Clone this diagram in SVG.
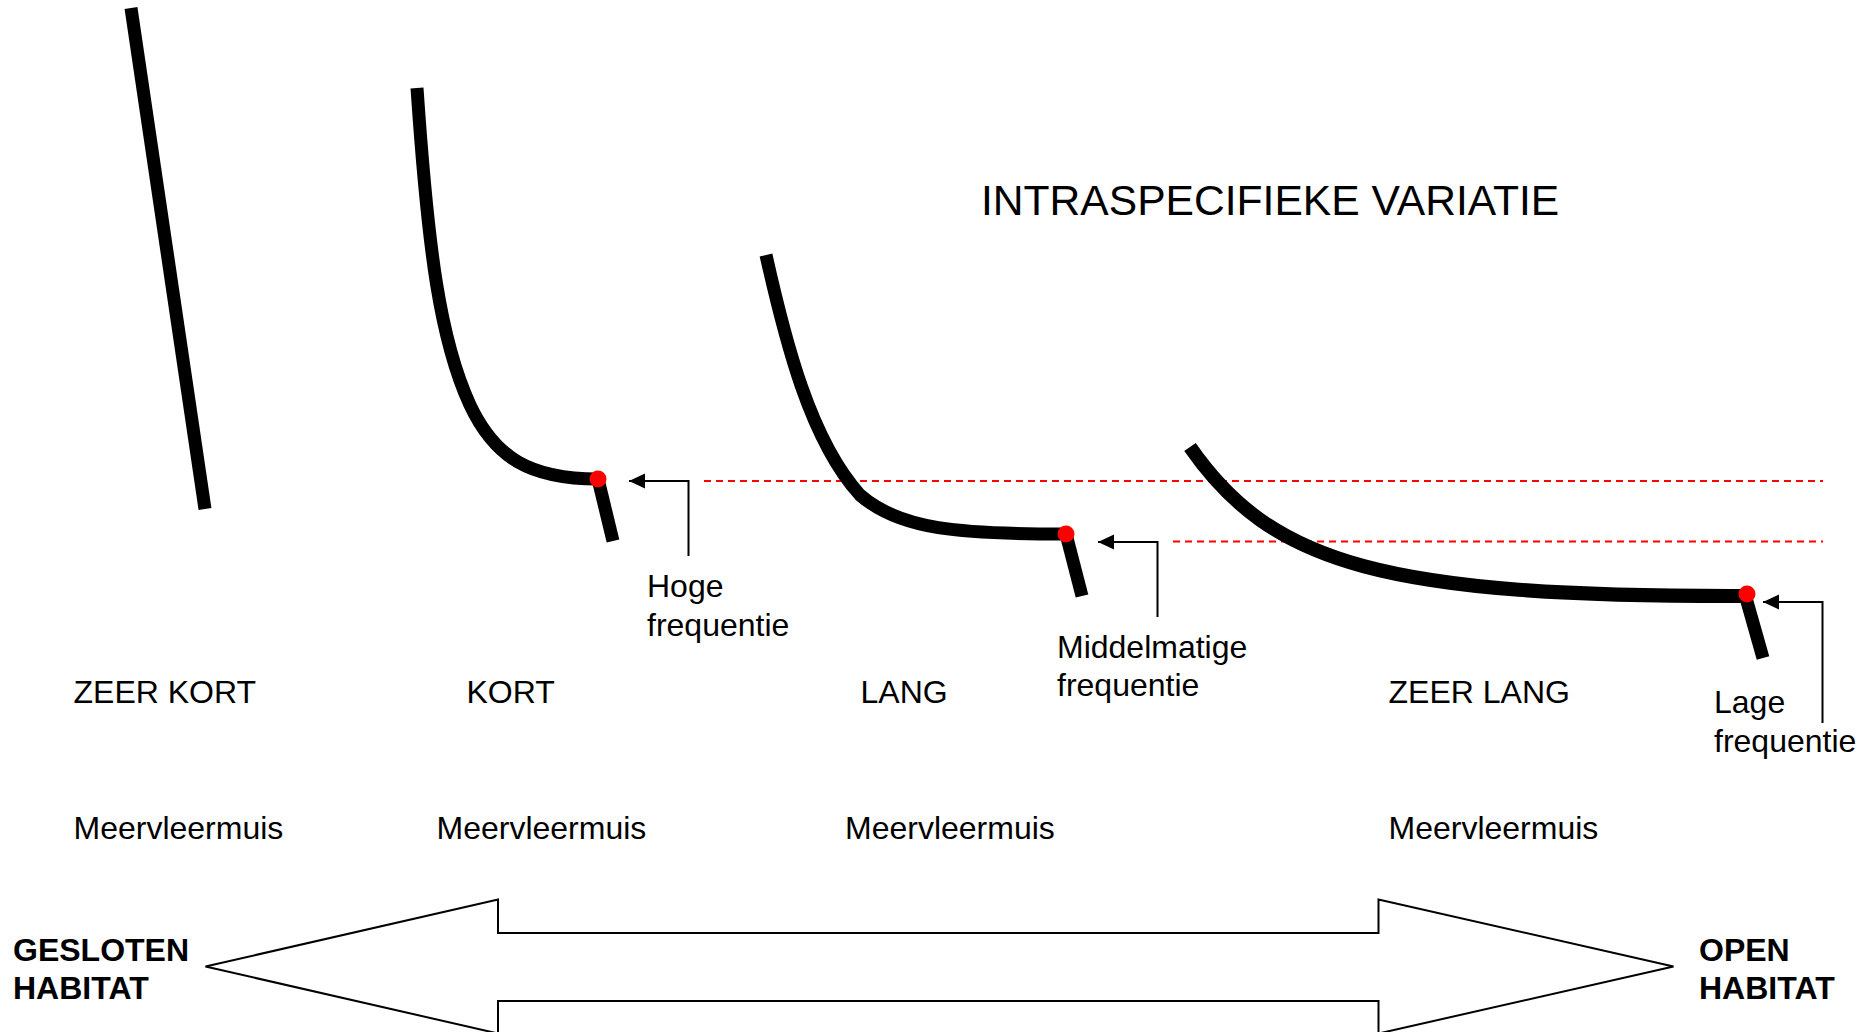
<svg xmlns="http://www.w3.org/2000/svg" width="1866" height="1032" viewBox="0 0 1866 1032">
<style>
text{font-family:"Liberation Sans",Arial,sans-serif;fill:#000;}
.lbl{font-size:32px;}
.big{font-size:42.6px;}
.bold{font-size:32px;font-weight:bold;}
.call{stroke:#000;stroke-width:13;fill:none;stroke-linecap:butt;}
.dash{stroke:#ff0000;stroke-width:2;stroke-dasharray:7 5;fill:none;}
.conn{stroke:#000;stroke-width:2;fill:none;}
.dot{fill:#ff0000;}
.arrowbig{fill:#fff;stroke:#000;stroke-width:2;}
</style>
<defs>
<marker id="ah2" viewBox="0 0 16 16" refX="16" refY="8" markerWidth="16" markerHeight="16" markerUnits="userSpaceOnUse" orient="auto">
<path d="M0,0.5 L16,8 L0,15.5 Z" fill="#000"/>
</marker>
</defs>
<rect width="1866" height="1032" fill="#fff"/>

<g id="title"><text class="big" x="981" y="215">INTRASPECIFIEKE VARIATIE</text></g>

<g id="guides">
<line class="dash" x1="704" y1="481" x2="1823" y2="481"/>
<line class="dash" x1="1173" y1="541.5" x2="1823" y2="541.5"/>
</g>

<g id="call-zeer-kort">
<line class="call" x1="131" y1="8" x2="205" y2="509"/>
</g>

<g id="call-kort">
<path class="call" d="M417,88 C428,250 440,340 470,405 C495,458 530,479 598,479"/>
<line class="call" x1="598" y1="479" x2="613" y2="541"/>
<circle class="dot" cx="598" cy="479" r="8.5"/>
</g>

<g id="call-lang">
<path class="call" d="M766,255 C785,340 810,440 860,495 C900,530 960,534 1066,534"/>
<line class="call" x1="1066" y1="534" x2="1082" y2="596"/>
<circle class="dot" cx="1066" cy="534" r="8.5"/>
</g>

<g id="call-zeer-lang">
<path class="call" d="M1190,447 C1272,565 1385,597 1747,596" style="stroke-width:14"/>
<line class="call" x1="1746" y1="598" x2="1763" y2="658"/>
<circle class="dot" cx="1747" cy="594" r="8.5"/>
</g>

<g id="connectors">
<path class="conn" d="M688.5,556 L688.5,481 L629,481" marker-end="url(#ah2)"/>
<path class="conn" d="M1157.5,617 L1157.5,542 L1098,542" marker-end="url(#ah2)"/>
<path class="conn" d="M1822.5,723 L1822.5,602 L1763,602" marker-end="url(#ah2)"/>
</g>

<g id="label-hoge"><text class="lbl" x="647" y="597">Hoge</text><text class="lbl" x="647" y="635.5">frequentie</text></g>
<g id="label-middel"><text class="lbl" x="1057" y="658">Middelmatige</text><text class="lbl" x="1057" y="696">frequentie</text></g>
<g id="label-lage"><text class="lbl" x="1714" y="713">Lage</text><text class="lbl" x="1714" y="751.5">frequentie</text></g>

<g id="cat-zeer-kort"><text class="lbl" x="73.5" y="703">ZEER KORT</text><text class="lbl" x="73.5" y="839">Meervleermuis</text></g>
<g id="cat-kort"><text class="lbl" x="466.5" y="703">KORT</text><text class="lbl" x="436.5" y="839">Meervleermuis</text></g>
<g id="cat-lang"><text class="lbl" x="860.5" y="703">LANG</text><text class="lbl" x="845" y="839">Meervleermuis</text></g>
<g id="cat-zeer-lang"><text class="lbl" x="1388.5" y="703">ZEER LANG</text><text class="lbl" x="1388.5" y="839">Meervleermuis</text></g>

<g id="habitat-arrow">
<path class="arrowbig" d="M205.5,966.5 L498,899.5 L498,933 L1378.5,933 L1378.5,899.5 L1673.5,966.5 L1378.5,1033.5 L1378.5,1001 L498,1001 L498,1033.5 Z"/>
</g>
<g id="label-gesloten"><text class="bold" x="13" y="960.5">GESLOTEN</text><text class="bold" x="13" y="998.5">HABITAT</text></g>
<g id="label-open"><text class="bold" x="1699" y="960.5">OPEN</text><text class="bold" x="1699" y="998.5">HABITAT</text></g>
</svg>
